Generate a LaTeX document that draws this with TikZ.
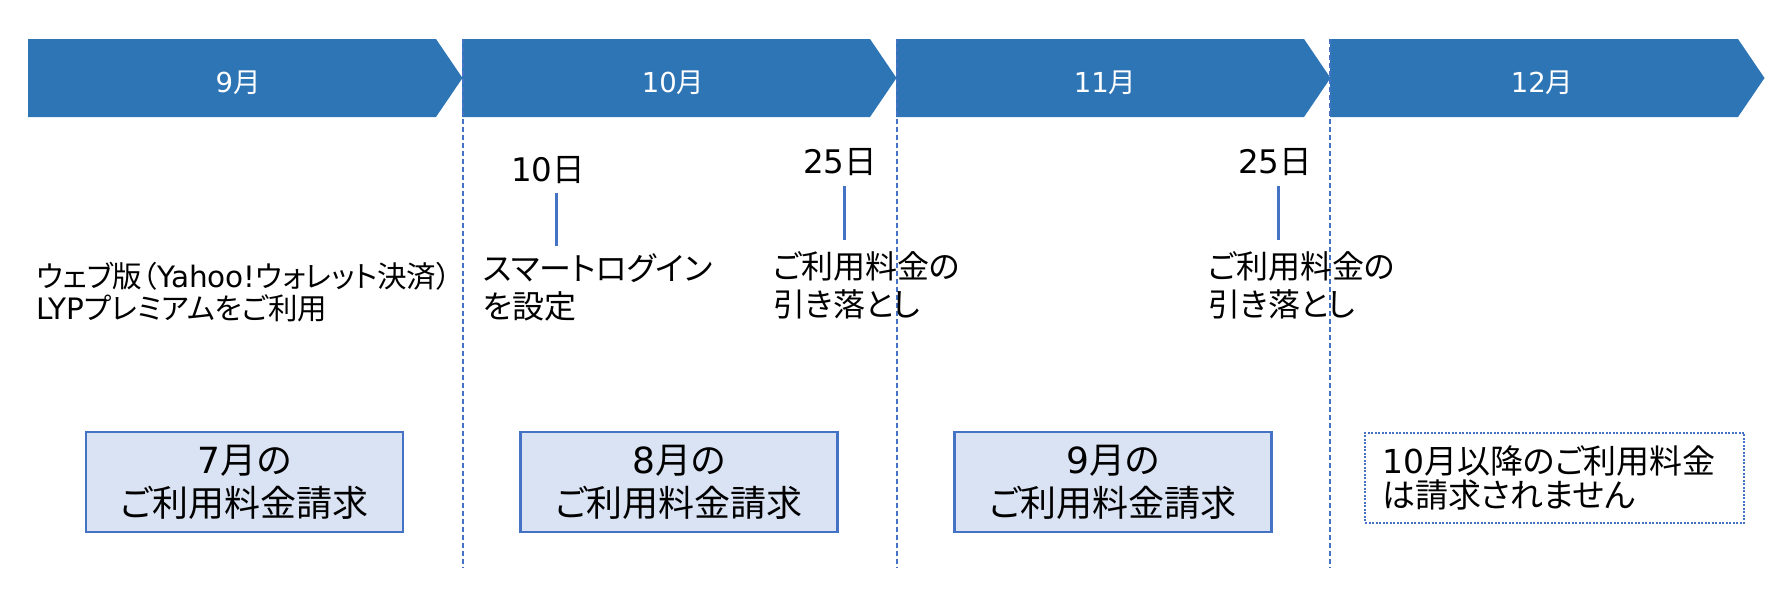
\documentclass[tikz,border=0pt]{standalone}
\usepackage{fontspec}
\setmainfont{Noto Sans CJK JP}[RawFeature=+palt]
\newfontfamily\lat{DejaVu Sans}
\definecolor{banner}{HTML}{2E75B6}
\definecolor{lineblue}{HTML}{4472C4}
\definecolor{boxfill}{HTML}{DAE3F3}
\begin{document}
\begin{tikzpicture}[x=1pt,y=-1pt,
  month/.style={text=white,font=\fontsize{27.5}{30}\selectfont,inner sep=0pt},
  daylbl/.style={font=\fontsize{32.5}{36}\selectfont,inner sep=0pt},
  body/.style={font=\fontsize{32}{38}\selectfont,inner sep=0pt,anchor=west,align=left},
  leftbody/.style={font=\fontsize{29.5}{32}\selectfont,inner sep=0pt,anchor=west,align=left},
  tick/.style={lineblue,line width=3pt},
  divider/.style={lineblue,line width=2pt,dash pattern=on 5pt off 3pt},
  billbox/.style={draw=lineblue,fill=boxfill,line width=2.5pt,minimum width=317pt,minimum height=100pt,align=center,inner sep=0pt,font=\fontsize{36}{43}\selectfont},
  nobill/.style={draw=lineblue,line width=2pt,dash pattern=on 2pt off 1.5pt,text width=345pt,inner xsep=17pt,inner ysep=0pt,minimum height=90pt,align=left,font=\fontsize{33}{34}\selectfont}]
\useasboundingbox (0,0) rectangle (1783,603);
% banner chevrons
\foreach \x in {28,462,896,1330}{
  \fill[banner] (\x,39) -- (\x+408,39) -- (\x+434.5,78) -- (\x+408,117) -- (\x,117) -- cycle;
}
\node[month] (m9) at (238,83) {{\lat 9}月};
\node[month] (m10) at (673,83) {{\lat 10}月};
\node[month] (m11) at (1105,83) {{\lat 11}月};
\node[month] (m12) at (1542,83) {{\lat 12}月};
% dividers
\coordinate (v1t) at (462.5,39); \coordinate (v1b) at (462.5,568);
\coordinate (v2t) at (896.5,39); \coordinate (v2b) at (896.5,568);
\coordinate (v3t) at (1330,39);  \coordinate (v3b) at (1330,568);
\draw[divider] (v1t) -- (v1b);
\draw[divider] (v2t) -- (v2b);
\draw[divider] (v3t) -- (v3b);
% left text
\node[leftbody] (web) at (36,292) {ウェブ版（{\lat Yahoo!}ウォレット決済）\\{\lat LYP}プレミアムをご利用};
% day labels and ticks
\node[daylbl] (d10) at (548,170) {{\lat 10}日};
\coordinate (t1a) at (556,193); \coordinate (t1b) at (556,246);
\draw[tick] (t1a) -- (t1b);
\node[body] (smart) at (483,287) {スマートログイン\\を設定};
\node[daylbl] (d25a) at (840,162) {{\lat 25}日};
\coordinate (t2a) at (844,186); \coordinate (t2b) at (844,240);
\draw[tick] (t2a) -- (t2b);
\node[body] (pay1) at (773,285) {ご利用料金の\\引き落とし};
\node[daylbl] (d25b) at (1275,162) {{\lat 25}日};
\coordinate (t3a) at (1278,186); \coordinate (t3b) at (1278,240);
\draw[tick] (t3a) -- (t3b);
\node[body] (pay2) at (1208,285) {ご利用料金の\\引き落とし};
% billing boxes
\node[billbox] (b7) at (244.5,482) {{\lat 7}月の\\ご利用料金請求};
\node[billbox] (b8) at (679,482) {{\lat 8}月の\\ご利用料金請求};
\node[billbox] (b9) at (1113,482) {{\lat 9}月の\\ご利用料金請求};
\node[nobill] (b10) at (1554.5,477.5) {{\lat 10}月以降のご利用料金\\は請求されません};
\end{tikzpicture}
\end{document}
